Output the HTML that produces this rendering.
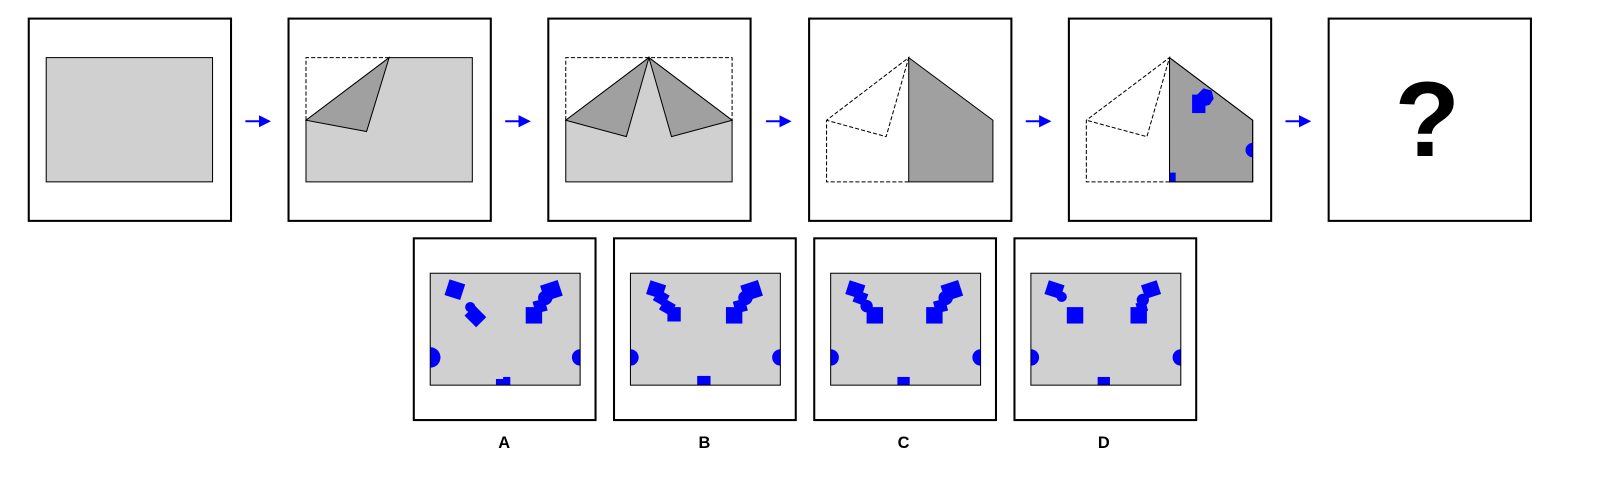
<!DOCTYPE html>
<html><head><meta charset="utf-8"><style>
html,body{margin:0;padding:0;background:#fff;}
svg{display:block;}
text{font-family:"Liberation Sans",sans-serif;font-weight:bold;}
</style></head><body>
<svg width="1610" height="490" viewBox="0 0 1568 477">
<defs>
<marker id="ah" markerWidth="6" markerHeight="6" refX="5" refY="3" orient="auto"><path d="M0,0 L6,3 L0,6 z" fill="#00f"/></marker>
<clipPath id="c5"><polygon points="1139,56 1220,117 1220,177 1139,177"/></clipPath>
</defs>
<g fill="none" stroke="#000" stroke-width="2">
<rect x="28" y="18" width="197" height="197"/>
<rect x="281" y="18" width="197" height="197"/>
<rect x="534" y="18" width="197" height="197"/>
<rect x="788" y="18" width="197" height="197"/>
<rect x="1041" y="18" width="197" height="197"/>
<rect x="1294" y="18" width="197" height="197"/>
</g>
<g stroke="#00f" stroke-width="2" marker-end="url(#ah)">
<line x1="239" y1="118" x2="262" y2="118"/>
<line x1="492" y1="118" x2="515" y2="118"/>
<line x1="746" y1="118" x2="769" y2="118"/>
<line x1="999" y1="118" x2="1022" y2="118"/>
<line x1="1252" y1="118" x2="1275" y2="118"/>
</g>
<rect x="45" y="56" width="162" height="121" fill="#d0d0d0" stroke="#000" stroke-width="1"/>
<g stroke="#000" stroke-width="1">
<polygon points="298,117 379,56 460,56 460,177 298,177" fill="#d0d0d0"/>
<polygon points="298,117 379,56 357,128" fill="#a0a0a0"/>
<polyline points="298,117 298,56 379,56" fill="none" stroke-dasharray="4,2"/>
</g>
<g stroke="#000" stroke-width="1">
<polygon points="551,117 632,56 713,117 713,177 551,177" fill="#d0d0d0"/>
<polygon points="551,117 632,56 610,133" fill="#a0a0a0"/>
<polygon points="713,117 632,56 654,133" fill="#a0a0a0"/>
<polyline points="551,117 551,56 713,56 713,117" fill="none" stroke-dasharray="4,2"/>
</g>
<g stroke="#000" stroke-width="1">
<polygon points="885,56 967,117 967,177 885,177" fill="#a0a0a0"/>
<polyline points="885,177 805,177 805,117 885,56 863,133 805,117" fill="none" stroke-dasharray="4,2"/>
</g>
<g stroke="#000" stroke-width="1">
<polygon points="1139,56 1220,117 1220,177 1139,177" fill="#a0a0a0"/>
<polyline points="1139,177 1058,177 1058,117 1139,56 1117,133 1058,117" fill="none" stroke-dasharray="4,2"/>
</g>
<g fill="#00f" clip-path="url(#c5)">
<rect x="1161" y="92" width="13" height="18"/>
<polygon points="1166,92 1172,86 1180,88 1182,96 1178,102 1170,104"/>
<rect x="1139" y="168" width="6" height="9"/>
<circle cx="1220" cy="146" r="7"/>
</g>
<polygon points="1139,56 1220,117 1220,177 1139,177" fill="none" stroke="#000" stroke-width="1"/>
<text x="1390" y="152" font-size="104" text-anchor="middle">?</text>

<g fill="none" stroke="#000" stroke-width="2">
<rect x="403" y="232" width="177" height="177"/>
<rect x="598" y="232" width="177" height="177"/>
<rect x="793" y="232" width="177" height="177"/>
<rect x="988" y="232" width="177" height="177"/>
</g>
<defs>
<clipPath id="cA"><rect x="419" y="266" width="146" height="109"/></clipPath>
<clipPath id="cB"><rect x="614" y="266" width="146" height="109"/></clipPath>
<clipPath id="cC"><rect x="809" y="266" width="146" height="109"/></clipPath>
<clipPath id="cD"><rect x="1004" y="266" width="146" height="109"/></clipPath>
<g id="rightCluster" fill="#00f">
<rect x="-9" y="-8" width="18" height="16" transform="translate(537,283) rotate(-18)"/>
<circle cx="531" cy="290" r="7"/>
<rect x="-6" y="-6" width="12" height="12" transform="translate(526,298) rotate(-15)"/>
<rect x="512" y="299" width="16" height="16"/>
</g>
</defs>
<g>
<rect x="419" y="266" width="146" height="109" fill="#d0d0d0"/>
<g clip-path="url(#cA)" fill="#00f">
<rect x="-8" y="-8" width="16" height="16" transform="translate(443,282) rotate(18)"/>
<rect x="-8" y="-7" width="16" height="14" transform="translate(463,308) rotate(45)"/>
<circle cx="458" cy="299" r="5"/>
<use href="#rightCluster"/>
<circle cx="419" cy="348" r="10"/>
<circle cx="565" cy="348" r="8"/>
<rect x="483" y="369" width="8" height="6"/><rect x="490" y="367" width="7" height="8"/>
</g>
<rect x="419" y="266" width="146" height="109" fill="none" stroke="#000" stroke-width="1"/>
</g>
<g>
<rect x="614" y="266" width="146" height="109" fill="#d0d0d0"/>
<g clip-path="url(#cB)" fill="#00f">
<rect x="-8" y="-7" width="16" height="14" transform="translate(639,282) rotate(18)"/>
<rect x="-6" y="-6" width="12" height="12" transform="translate(644,290) rotate(30)"/>
<rect x="-6" y="-6" width="12" height="12" transform="translate(650,299) rotate(30)"/>
<rect x="650" y="299" width="13" height="14"/>
<use href="#rightCluster" transform="translate(195,0)"/>
<circle cx="614" cy="348" r="8"/>
<circle cx="760" cy="348" r="8"/>
<rect x="679" y="366" width="13" height="9"/>
</g>
<rect x="614" y="266" width="146" height="109" fill="none" stroke="#000" stroke-width="1"/>
</g>
<g>
<rect x="809" y="266" width="146" height="109" fill="#d0d0d0"/>
<g clip-path="url(#cC)" fill="#00f">
<rect x="-8" y="-7" width="16" height="14" transform="translate(833,282) rotate(18)"/>
<rect x="-6" y="-6" width="12" height="12" transform="translate(838,290) rotate(20)"/>
<circle cx="844" cy="298" r="6"/>
<rect x="844" y="299" width="16" height="16"/>
<use href="#rightCluster" transform="translate(390,0)"/>
<circle cx="809" cy="348" r="8"/>
<circle cx="955" cy="348" r="8"/>
<rect x="874" y="367" width="12" height="8"/>
</g>
<rect x="809" y="266" width="146" height="109" fill="none" stroke="#000" stroke-width="1"/>
</g>
<g>
<rect x="1004" y="266" width="146" height="109" fill="#d0d0d0"/>
<g clip-path="url(#cD)" fill="#00f">
<rect x="-8" y="-7" width="16" height="14" transform="translate(1027,282) rotate(18)"/>
<circle cx="1034" cy="289" r="5"/>
<rect x="1039" y="299" width="16" height="16"/>
<rect x="-8" y="-7" width="16" height="14" transform="translate(1121,282) rotate(-18)"/>
<circle cx="1113" cy="292" r="6"/>
<rect x="1101" y="299" width="16" height="16"/>
<rect x="-5" y="-5" width="10" height="10" transform="translate(1112,299) rotate(-15)"/>
<circle cx="1004" cy="348" r="8"/>
<circle cx="1150" cy="348" r="8"/>
<rect x="1069" y="367" width="12" height="8"/>
</g>
<rect x="1004" y="266" width="146" height="109" fill="none" stroke="#000" stroke-width="1"/>
</g>
<text x="491" y="436" font-size="16" text-anchor="middle">A</text>
<text x="686" y="436" font-size="16" text-anchor="middle">B</text>
<text x="880" y="436" font-size="16" text-anchor="middle">C</text>
<text x="1075" y="436" font-size="16" text-anchor="middle">D</text>
</svg>
</body></html>
